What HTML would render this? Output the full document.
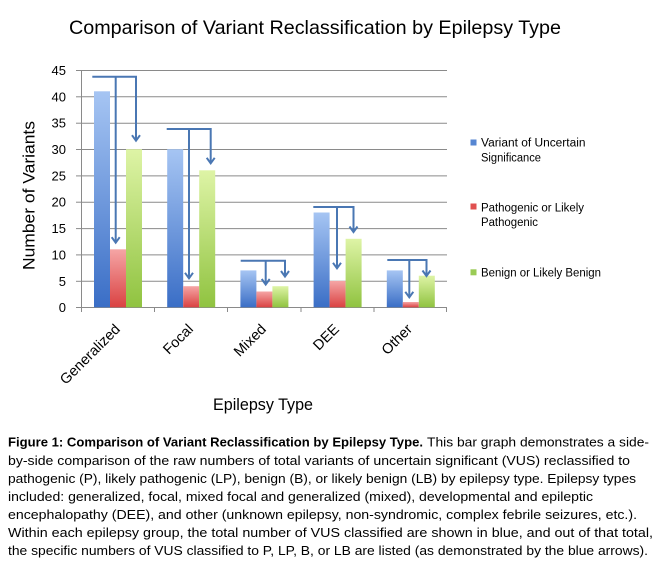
<!DOCTYPE html>
<html><head><meta charset="utf-8"><style>
html,body{margin:0;padding:0;background:#fff;}
svg{display:block;font-family:"Liberation Sans",sans-serif;}
</style></head><body>
<svg width="657" height="570" viewBox="0 0 657 570" xmlns="http://www.w3.org/2000/svg">
<defs>
<linearGradient id="gb" x1="0" y1="0" x2="0" y2="1"><stop offset="0" stop-color="#a6c5f3"/><stop offset="1" stop-color="#3a6ec6"/></linearGradient>
<linearGradient id="gr" x1="0" y1="0" x2="0" y2="1"><stop offset="0" stop-color="#f5a5a5"/><stop offset="1" stop-color="#da4242"/></linearGradient>
<linearGradient id="gg" x1="0" y1="0" x2="0" y2="1"><stop offset="0" stop-color="#def4a6"/><stop offset="1" stop-color="#90c340"/></linearGradient>
</defs>
<rect width="657" height="570" fill="#fff"/>
<text x="69" y="34" font-size="19.5" textLength="492" lengthAdjust="spacingAndGlyphs" fill="#000">Comparison of Variant Reclassification by Epilepsy Type</text>

<!-- gridlines -->
<g stroke="#8a8a8a" stroke-width="1">
<line x1="81" y1="70.5" x2="447" y2="70.5"/>
<line x1="81" y1="96.8" x2="447" y2="96.8"/>
<line x1="81" y1="123.2" x2="447" y2="123.2"/>
<line x1="81" y1="149.5" x2="447" y2="149.5"/>
<line x1="81" y1="175.9" x2="447" y2="175.9"/>
<line x1="81" y1="202.2" x2="447" y2="202.2"/>
<line x1="81" y1="228.6" x2="447" y2="228.6"/>
<line x1="81" y1="254.9" x2="447" y2="254.9"/>
<line x1="81" y1="281.3" x2="447" y2="281.3"/>
<line x1="81" y1="307.5" x2="447" y2="307.5"/>
<line x1="81.5" y1="70" x2="81.5" y2="307.5"/>
<!-- y ticks -->
<line x1="76" y1="70.5" x2="81" y2="70.5"/>
<line x1="76" y1="96.8" x2="81" y2="96.8"/>
<line x1="76" y1="123.2" x2="81" y2="123.2"/>
<line x1="76" y1="149.5" x2="81" y2="149.5"/>
<line x1="76" y1="175.9" x2="81" y2="175.9"/>
<line x1="76" y1="202.2" x2="81" y2="202.2"/>
<line x1="76" y1="228.6" x2="81" y2="228.6"/>
<line x1="76" y1="254.9" x2="81" y2="254.9"/>
<line x1="76" y1="281.3" x2="81" y2="281.3"/>
<line x1="76" y1="307.5" x2="81" y2="307.5"/>
<!-- x ticks -->
<line x1="81.5" y1="307" x2="81.5" y2="312"/>
<line x1="154.5" y1="307" x2="154.5" y2="312"/>
<line x1="227.5" y1="307" x2="227.5" y2="312"/>
<line x1="301" y1="307" x2="301" y2="312"/>
<line x1="374" y1="307" x2="374" y2="312"/>
<line x1="446.5" y1="307" x2="446.5" y2="312"/>
</g>

<!-- y labels -->
<g font-size="13" text-anchor="end" fill="#000">
<text x="66" y="75">45</text>
<text x="66" y="101.3">40</text>
<text x="66" y="127.7">35</text>
<text x="66" y="154">30</text>
<text x="66" y="180.4">25</text>
<text x="66" y="206.7">20</text>
<text x="66" y="233.1">15</text>
<text x="66" y="259.4">10</text>
<text x="66" y="285.8">5</text>
<text x="66" y="312">0</text>
</g>

<!-- bars -->
<g>
<rect x="94" y="91.3" width="16" height="216" fill="url(#gb)"/>
<rect x="110" y="249.3" width="16" height="58" fill="url(#gr)"/>
<rect x="126" y="149.2" width="16" height="158.1" fill="url(#gg)"/>

<rect x="167.2" y="149.2" width="16" height="158.1" fill="url(#gb)"/>
<rect x="183.2" y="286.2" width="16" height="21.1" fill="url(#gr)"/>
<rect x="199.2" y="170.3" width="16" height="137" fill="url(#gg)"/>

<rect x="240.4" y="270.4" width="16" height="36.9" fill="url(#gb)"/>
<rect x="256.4" y="291.5" width="16" height="15.8" fill="url(#gr)"/>
<rect x="272.4" y="286.2" width="16" height="21.1" fill="url(#gg)"/>

<rect x="313.6" y="212.5" width="16" height="94.8" fill="url(#gb)"/>
<rect x="329.6" y="281" width="16" height="26.3" fill="url(#gr)"/>
<rect x="345.6" y="238.8" width="16" height="68.5" fill="url(#gg)"/>

<rect x="386.8" y="270.4" width="16" height="36.9" fill="url(#gb)"/>
<rect x="402.8" y="302" width="16" height="5.3" fill="url(#gr)"/>
<rect x="418.8" y="275.7" width="16" height="31.6" fill="url(#gg)"/>
</g>

<!-- arrows -->
<g stroke="#4a77b3" stroke-width="2" fill="none" stroke-linejoin="miter">
<polyline points="92.3,76.7 136,76.7 136,140.7"/>
<line x1="115.7" y1="76.7" x2="115.7" y2="242.7"/>
<polyline points="111.7,237.2 115.7,242.7 119.7,237.2"/>
<polyline points="132,135.2 136,140.7 140,135.2"/>

<polyline points="166.7,129 210.7,129 210.7,163.3"/>
<line x1="189" y1="129" x2="189" y2="278.3"/>
<polyline points="185,272.8 189,278.3 193,272.8"/>
<polyline points="206.7,157.8 210.7,163.3 214.7,157.8"/>

<polyline points="240.7,260.7 285,260.7 285,276.5"/>
<line x1="265.7" y1="260.7" x2="265.7" y2="284.5"/>
<polyline points="261.7,279 265.7,284.5 269.7,279"/>
<polyline points="281,271 285,276.5 289,271"/>

<polyline points="313.3,207 353.5,207 353.5,232"/>
<line x1="337" y1="207" x2="337" y2="268.3"/>
<polyline points="333,262.8 337,268.3 341,262.8"/>
<polyline points="349.5,226.5 353.5,232 357.5,226.5"/>

<polyline points="387.3,260 426.5,260 426.5,276"/>
<line x1="409.3" y1="260" x2="409.3" y2="297.3"/>
<polyline points="405.3,291.8 409.3,297.3 413.3,291.8"/>
<polyline points="422.5,270.5 426.5,276 430.5,270.5"/>
</g>

<!-- x labels -->
<g font-size="14.5" text-anchor="end" fill="#000">
<text transform="translate(121,330) rotate(-45)">Generalized</text>
<text transform="translate(194,330) rotate(-45)">Focal</text>
<text transform="translate(267,330) rotate(-45)">Mixed</text>
<text transform="translate(340,330) rotate(-45)">DEE</text>
<text transform="translate(413,330) rotate(-45)">Other</text>
</g>

<text x="213" y="410" font-size="16.5" textLength="100" lengthAdjust="spacingAndGlyphs" fill="#000">Epilepsy Type</text>
<text transform="translate(34.5,270) rotate(-90)" font-size="16.5" textLength="149" lengthAdjust="spacingAndGlyphs" fill="#000">Number of Variants</text>

<!-- legend -->
<rect x="470.5" y="139.5" width="6" height="6" fill="#5686d2"/>
<rect x="470.5" y="203.5" width="6" height="6" fill="#e0504f"/>
<rect x="470.5" y="269.3" width="6" height="6" fill="#9acb55"/>
<g font-size="11.5" fill="#000">
<text x="481" y="146.7" textLength="104.5" lengthAdjust="spacingAndGlyphs">Variant of Uncertain</text>
<text x="481" y="161.3" textLength="60" lengthAdjust="spacingAndGlyphs">Significance</text>
<text x="481" y="211.7" textLength="103" lengthAdjust="spacingAndGlyphs">Pathogenic or Likely</text>
<text x="481" y="226" textLength="57" lengthAdjust="spacingAndGlyphs">Pathogenic</text>
<text x="481" y="276.7" textLength="120" lengthAdjust="spacingAndGlyphs">Benign or Likely Benign</text>
</g>

<!-- caption -->
<g font-size="12.5" fill="#000">
<text x="8" y="446.7" font-weight="bold" textLength="415" lengthAdjust="spacingAndGlyphs">Figure 1: Comparison of Variant Reclassification by Epilepsy Type.</text>
<text x="427" y="446.7" textLength="222" lengthAdjust="spacingAndGlyphs">This bar graph demonstrates a side-</text>
<text x="8" y="464.8" textLength="622" lengthAdjust="spacingAndGlyphs">by-side comparison of the raw numbers of total variants of uncertain significant (VUS) reclassified to</text>
<text x="8" y="482.8" textLength="628" lengthAdjust="spacingAndGlyphs">pathogenic (P), likely pathogenic (LP), benign (B), or likely benign (LB) by epilepsy type. Epilepsy types</text>
<text x="8" y="500.9" textLength="585" lengthAdjust="spacingAndGlyphs">included: generalized, focal, mixed focal and generalized (mixed), developmental and epileptic</text>
<text x="8" y="518.9" textLength="629" lengthAdjust="spacingAndGlyphs">encephalopathy (DEE), and other (unknown epilepsy, non-syndromic, complex febrile seizures, etc.).</text>
<text x="8" y="537" textLength="645" lengthAdjust="spacingAndGlyphs">Within each epilepsy group, the total number of VUS classified are shown in blue, and out of that total,</text>
<text x="8" y="555" textLength="640" lengthAdjust="spacingAndGlyphs">the specific numbers of VUS classified to P, LP, B, or LB are listed (as demonstrated by the blue arrows).</text>
</g>
</svg>
</body></html>
